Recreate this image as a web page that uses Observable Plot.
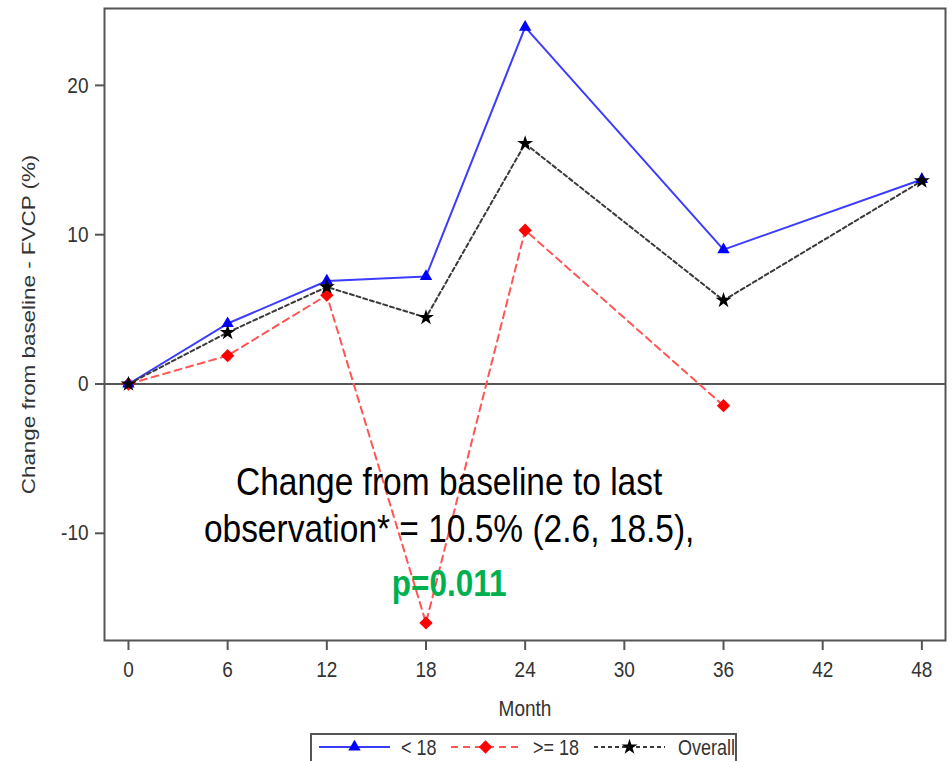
<!DOCTYPE html>
<html>
<head>
<meta charset="utf-8">
<script src="https://cdn.jsdelivr.net/npm/d3@7"></script>
<script src="https://cdn.jsdelivr.net/npm/@observablehq/plot@0.6"></script>
<style>
  html, body { margin: 0; padding: 0; background: #fff; }
  body { font-family: "Liberation Sans", Arial, sans-serif; width: 952px; height: 761px; overflow: hidden; }
  #legend { position: relative; margin-left: 310px; margin-top: 5px; width: 427px; height: 40px;
            border: 2px solid #555; box-sizing: border-box; }
  #legend .item { position: absolute; top: 0; height: 26px; }
  #legend .lbl { position: absolute; top: 2px; font-size: 18px; color: #333; display: inline-block;
                 transform: scaleY(1.18); transform-origin: 50% 50%; white-space: nowrap; line-height: 22px; }
</style>
</head>
<body>
<div id="chart"></div>
<div id="legend"></div>
<script>
// ---- data ----
const months = [0, 6, 12, 18, 24, 36, 48];
const monthsOver18 = [0, 6, 12, 18, 24, 36];
const under18 = [0, 4.05, 6.9, 7.2, 23.9, 9.0, 13.7];
const over18 = [0, 1.9, 5.95, -16.0, 10.3, -1.45];
const overall = [0, 3.45, 6.5, 4.45, 16.1, 5.6, 13.6];
const seriesNames = ["< 18", ">= 18", "Overall"];
const xTicks = [0, 6, 12, 18, 24, 30, 36, 42, 48];
const yTicks = [-10, 0, 10, 20];
const xLabel = "Month";
const yLabel = "Change from baseline - FVCP (%)";
const noteLines = ["Change from baseline to last", "observation* = 10.5% (2.6, 18.5),"];
const pValueText = ["p=0.011"];

const blueRows = months.map((m, i) => ({month: m, value: under18[i]}));
const redRows = monthsOver18.map((m, i) => ({month: m, value: over18[i]}));
const blackRows = months.map((m, i) => ({month: m, value: overall[i]}));

const styles = {
  blue: {line: "#3c3cff", marker: "#0000ff", dash: null, symbol: "triangle", r: 4.6},
  red: {line: "#ff5555", marker: "#ff0000", dash: "7,5", symbol: "diamond2", r: 6.0},
  black: {line: "#3a3a3a", marker: "#000000", dash: "4,3", symbol: "star", r: 5.0}
};

const font = "Liberation Sans, Arial, sans-serif";

const chart = Plot.plot({
  width: 952,
  height: 728,
  marginLeft: 104,
  marginRight: 7,
  marginTop: 8,
  marginBottom: 88,
  style: {background: "#fff", fontFamily: font, overflow: "visible"},
  x: {domain: [-1.45, 49.43]},
  y: {domain: [-17.18, 25.15]},
  marks: [
    Plot.ruleY([0], {stroke: "#555", strokeWidth: 2}),
    Plot.line(redRows, {x: "month", y: "value", stroke: styles.red.line, strokeWidth: 2, strokeDasharray: styles.red.dash}),
    Plot.line(blueRows, {x: "month", y: "value", stroke: styles.blue.line, strokeWidth: 2}),
    Plot.line(blackRows, {x: "month", y: "value", stroke: styles.black.line, strokeWidth: 2, strokeDasharray: styles.black.dash}),
    Plot.dot(redRows, {x: "month", y: "value", symbol: styles.red.symbol, r: styles.red.r, fill: styles.red.marker, stroke: "none"}),
    Plot.dot(blueRows, {x: "month", y: "value", symbol: styles.blue.symbol, r: styles.blue.r, fill: styles.blue.marker, stroke: "none"}),
    Plot.dot(blackRows, {x: "month", y: "value", symbol: styles.black.symbol, r: styles.black.r, fill: styles.black.marker, stroke: "none"}),
    Plot.text([noteLines[0]], {x: 19.4, y: -6.62, text: d => d, fontSize: 33.5, fill: "#000", textAnchor: "middle"}),
    Plot.text([noteLines[1]], {x: 19.4, y: -9.75, text: d => d, fontSize: 33.5, fill: "#000", textAnchor: "middle"}),
    Plot.text(pValueText, {x: 19.4, y: -13.37, text: d => d, fontSize: 31.5, fontWeight: "bold", fill: "#00b050", textAnchor: "middle"}),
    Plot.axisX({ticks: xTicks, tickSize: 10, tickPadding: 11, fontSize: 19, label: null, stroke: "#555", strokeWidth: 2, color: "#333", tickFormat: d => String(d)}),
    Plot.axisY({ticks: yTicks, tickSize: 9, tickPadding: 7, fontSize: 19, label: null, stroke: "#555", strokeWidth: 2, color: "#333", tickFormat: d => String(d)}),
    Plot.text([xLabel], {frameAnchor: "bottom", dy: 68, text: d => d, fontSize: 19, fill: "#333", textAnchor: "middle", lineAnchor: "middle"}),
    Plot.text([yLabel], {frameAnchor: "left", dx: -76, rotate: -90, text: d => d, fontSize: 19, fill: "#333", textAnchor: "middle", lineAnchor: "middle"}),
    Plot.frame({stroke: "#555", strokeWidth: 2})
  ]
});

// The reference image is vertically stretched: stretch every text glyph likewise.
const S = 1.18;
chart.querySelectorAll("text").forEach(t => {
  const tr = t.getAttribute("transform");
  if (tr) {
    const m = tr.match(/^translate\([^)]*\)/);
    if (m) { t.setAttribute("transform", m[0] + ` scale(1,${S})` + tr.slice(m[0].length)); return; }
  }
  const x = +(t.getAttribute("x") || 0), y = +(t.getAttribute("y") || 0);
  t.setAttribute("transform", `translate(${x},${y}) scale(1,${S}) translate(${-x},${-y})` + (tr ? " " + tr : ""));
});
document.getElementById("chart").appendChild(chart);

// ---- legend ----
const legend = d3.select("#legend");
const legendItems = [
  {name: seriesNames[0], st: styles.blue, lineX: 7, lineW: 71, labelX: 89},
  {name: seriesNames[1], st: styles.red, lineX: 139, lineW: 69, labelX: 221},
  {name: seriesNames[2], st: styles.black, lineX: 282, lineW: 71, labelX: 366}
];
legendItems.forEach(it => {
  const svg = legend.append("svg").attr("class", "item")
    .style("left", it.lineX + "px").attr("width", it.lineW).attr("height", 26);
  svg.append("line").attr("x1", 0).attr("x2", it.lineW).attr("y1", 12).attr("y2", 12)
    .attr("stroke", it.st.line).attr("stroke-width", 2)
    .attr("stroke-dasharray", it.st.dash);
  const sym = {triangle: d3.symbolTriangle, diamond2: d3.symbolDiamond2, star: d3.symbolStar}[it.st.symbol];
  svg.append("path").attr("d", d3.symbol(sym, Math.PI * it.st.r * it.st.r)())
    .attr("transform", `translate(${it.lineW / 2},12)`).attr("fill", it.st.marker);
  legend.append("span").attr("class", "lbl").style("left", it.labelX + "px").text(it.name);
});
</script>
</body>
</html>
